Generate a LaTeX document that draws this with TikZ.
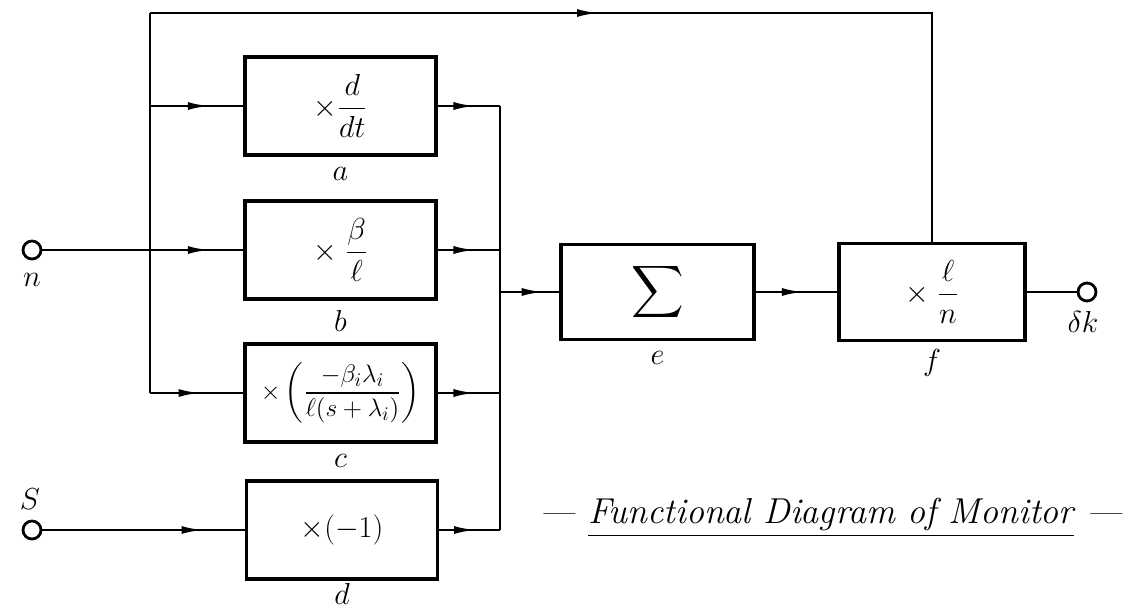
\documentclass[tikz,border=0pt]{standalone}
\usepackage{amsmath}
\usetikzlibrary{arrows.meta, decorations.markings}

\tikzset{
  block/.style={draw, line width=1.9pt, minimum width=3.82cm, minimum height=1.96cm,
    inner sep=2pt, font=\fontsize{17}{20}\selectfont},
  terminal/.style={circle, draw, line width=1.6pt, inner sep=0pt, minimum size=0.36cm},
  tag/.style={inner sep=1pt, font=\fontsize{16}{19}\selectfont},
  midarrow/.style={postaction={decorate}, decoration={markings,
    mark=at position #1 with {\arrow{Latex[length=13pt,width=4.5pt]}}}},
}

\begin{document}
\begin{tikzpicture}[x=0.02cm, y=-0.02cm, line width=1.6pt]
    \useasboundingbox (0,0) rectangle (1138,607);

    % Buses
    \coordinate (ltop) at (150,13);
    \coordinate (rbus) at (500,0);

    % Blocks a to d
    \node[block] (a) at (340.5,106) {$\times\dfrac{d}{dt}$};
    \node[block] (b) at (340.5,250) {$\times\;\dfrac{\beta}{\ell}$};
    \node[block, font=\fontsize{15}{18}\selectfont] (c) at (340.5,393)
        {$\times\left(\dfrac{-\beta_i\lambda_i}{\ell(s+\lambda_i)}\right)$};
    \node[block] (d) at (342,530) {$\times(-1)$};

    % Sum and output blocks
    \node[block, minimum width=3.86cm, minimum height=1.9cm, font=\fontsize{20}{24}\selectfont]
        (e) at (657.5,292) {$\displaystyle\sum$};
    \node[block, minimum width=3.72cm, minimum height=1.94cm] (f) at (932,292)
        {$\times\;\dfrac{\ell}{n}$};

    % Block names
    \node[tag] (la) at (a.south) [yshift=-0.34cm] {$a$};
    \node[tag] (lb) at (b.south) [yshift=-0.4cm] {$b$};
    \node[tag] (lc) at (c.south) [yshift=-0.34cm] {$c$};
    \node[tag, anchor=north] (ld) at (d.south) {$d$};
    \node[tag] (le) at (e.south) [yshift=-0.34cm] {$e$};
    \node[tag] (lf) at (f.south) [yshift=-0.42cm] {$f$};

    % Terminals
    \node[terminal] (n) at (32,250) {};
    \node[tag] (ln) at (32,280) {$n$};
    \node[terminal] (s) at (32,530) {};
    \node[tag] (ls) at (30,499) {$S$};
    \node[terminal] (dk) at (1087,292) {};
    \node[tag] (ldk) at (1083,322) {$\delta k$};

    % Left bus and inputs
    \draw (ltop) -- (c.west -| ltop);
    \draw (n) -- (b.west -| ltop);
    \draw[midarrow=0.65] (a.west -| ltop) -- (a.west);
    \draw[midarrow=0.65] (b.west -| ltop) -- (b.west);
    \draw[midarrow=0.55] (c.west -| ltop) -- (c.west);
    \draw[midarrow=0.8] (s) -- (d.west);

    % Top line to f
    \draw[midarrow=0.445] (ltop) -- (ltop -| f.north) -- (f.north);

    % Right bus and outputs
    \draw (a.east -| rbus) -- (d.east -| rbus);
    \draw[midarrow=0.62] (a.east) -- (a.east -| rbus);
    \draw[midarrow=0.62] (b.east) -- (b.east -| rbus);
    \draw[midarrow=0.62] (c.east) -- (c.east -| rbus);
    \draw[midarrow=0.62] (d.east) -- (d.east -| rbus);

    % Sum, scale and output
    \draw[midarrow=0.75] (e.west -| rbus) -- (e.west);
    \draw[midarrow=0.6] (e.east) -- (f.west);
    \draw (f.east) -- (dk);

    % Title
    \node[font=\fontsize{20.5}{24}\selectfont\itshape, anchor=base] (title) at (831,523)
        {--- \underline{Functional Diagram of Monitor} ---};
\end{tikzpicture}
\end{document}
